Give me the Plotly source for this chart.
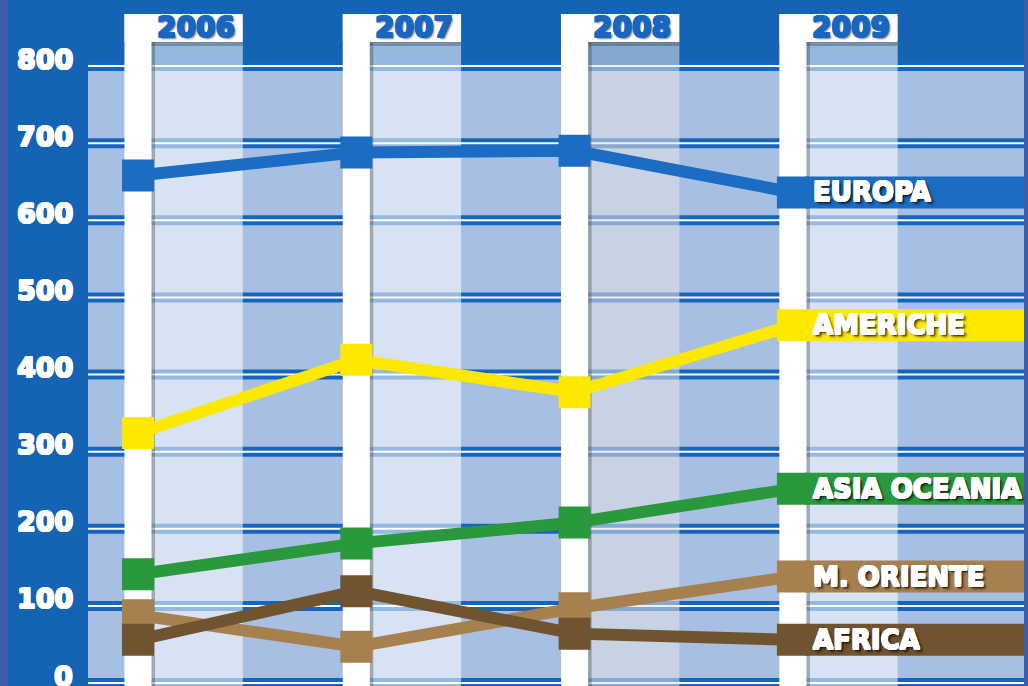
import plotly.graph_objects as go

years = [2006, 2007, 2008, 2009]
year_labels = ["2006", "2007", "2008", "2009"]
series_names = ["EUROPA", "AMERICHE", "ASIA OCEANIA", "M. ORIENTE", "AFRICA"]
europa = [658, 688, 690, 636]
americhe = [324, 419, 377, 464]
asia_oceania = [141, 181, 208, 252]
m_oriente = [88, 47, 97, 138]
africa = [56, 119, 64, 56]
y_ticks = [0, 100, 200, 300, 400, 500, 600, 700, 800]

series_values = [europa, americhe, asia_oceania, m_oriente, africa]
series_colors = ["#1b6cc2", "#fde800", "#2a983c", "#a7804f", "#70532f"]

BG = "#1463b4"
W, H = 1028, 686
PX_PER_YEAR = 218.3
X0_PX = 138
Y0_PX = 683
PX_PER_UNIT = 617 / 800

def xp(px):
    return years[0] + (px - X0_PX) / PX_PER_YEAR

def yp(py):
    return (Y0_PX - py) / PX_PER_UNIT

def thick(color, d=0.7):
    return ", ".join(f"{dx}px {dy}px 0 {color}" for dx, dy in
                     [(d, 0), (-d, 0), (0, d), (0, -d), (d, d), (-d, -d), (d, -d), (-d, d)])

x_range = [xp(0), xp(W)]
y_range = [yp(H), yp(0)]
ymin = y_range[0] - 5
top_val = y_ticks[-1]

shapes = []
shapes.append(dict(type="rect", xref="paper", yref="paper", x0=0, x1=8 / W, y0=0, y1=1,
                   fillcolor="#3a5eaa", line_width=0, layer="below"))
shapes.append(dict(type="rect", xref="paper", yref="paper", x0=1 - 4 / W, x1=1, y0=0, y1=1,
                   fillcolor="#3a5eaa", line_width=0, layer="below"))
shapes.append(dict(type="rect", xref="x", yref="y", x0=xp(88), x1=xp(W - 4), y0=ymin, y1=top_val,
                   fillcolor="#a7bfe2", line_width=0, layer="below"))
for t in y_ticks:
    shapes.append(dict(type="line", xref="x", yref="y", x0=xp(88), x1=xp(W - 4), y0=t, y1=t,
                       line=dict(color="#1565bd", width=10), layer="below"))
    shapes.append(dict(type="line", xref="x", yref="y", x0=xp(88), x1=xp(W - 4), y0=t, y1=t,
                       line=dict(color="white", width=2), layer="below"))
for i, yr in enumerate(years):
    fill = "rgba(255,255,255,0.55)" if yr != 2008 else "rgba(225,225,228,0.55)"
    shapes.append(dict(type="rect", xref="x", yref="y", x0=yr + 0.06, x1=yr + 0.48,
                       y0=ymin, y1=yp(42), fillcolor=fill, line_width=0, layer="below"))
    shapes.append(dict(type="rect", xref="x", yref="y", x0=yr + 0.058, x1=yr + 0.078,
                       y0=ymin, y1=yp(42), fillcolor="rgba(60,60,70,0.35)", line_width=0, layer="below"))
    shapes.append(dict(type="rect", xref="x", yref="y", x0=yr + 0.06, x1=yr + 0.48,
                       y0=yp(46), y1=yp(42), fillcolor="rgba(60,60,70,0.35)", line_width=0, layer="below"))
    shapes.append(dict(type="rect", xref="x", yref="y", x0=yr - 0.062, x1=yr + 0.062,
                       y0=ymin, y1=yp(14), fillcolor="white", line_width=0, layer="below"))
    shapes.append(dict(type="rect", xref="x", yref="y", x0=yr - 0.062, x1=yr + 0.48,
                       y0=yp(42), y1=yp(14), fillcolor="white", line_width=0, layer="below"))

half_box = 16 / PX_PER_UNIT
for vals, col in zip(series_values, series_colors):
    v = vals[-1]
    shapes.append(dict(type="rect", xref="x", yref="y", x0=years[-1] + 0.055, x1=xp(W - 4),
                       y0=v - half_box, y1=v + half_box, fillcolor=col, line_width=0, layer="below"))

fig = go.Figure()
for name, vals, col in zip(series_names, series_values, series_colors):
    fig.add_trace(go.Scatter(
        x=years, y=vals, mode="lines+markers", name=name,
        line=dict(color=col, width=12),
        marker=dict(symbol="square", size=32, color=col, line_width=0),
        hoverinfo="x+y+name"))

annotations = []
for t in y_ticks:
    annotations.append(dict(xref="paper", yref="y", x=75 / W, y=t, yshift=7, text=str(t),
                            showarrow=False, xanchor="right", yanchor="middle",
                            font=dict(family="DejaVu Sans", size=27, color="white", weight="bold",
                                      shadow=thick("white", 0.8))))
for yr, lab in zip(years, year_labels):
    annotations.append(dict(xref="x", yref="y", x=yr + 0.265, y=yp(27), text=lab,
                            showarrow=False, xanchor="center", yanchor="middle",
                            font=dict(family="DejaVu Sans", size=28, color="#1767c2", weight="bold",
                                      shadow=thick("#1767c2", 0.8) + ", 2px 2px 2px rgba(0,0,0,0.5)")))
for name, vals in zip(series_names, series_values):
    annotations.append(dict(xref="x", yref="y", x=xp(811), y=vals[-1], text=name,
                            showarrow=False, xanchor="left", yanchor="middle",
                            font=dict(family="DejaVu Sans", size=26, color="white", weight="bold",
                                      shadow=thick("white", 0.7) + ", 2px 2px 2px rgba(0,0,0,0.7), 3px 3px 3px rgba(0,0,0,0.4)")))

fig.update_layout(
    width=W, height=H, margin=dict(l=0, r=0, t=0, b=0),
    paper_bgcolor=BG, plot_bgcolor=BG,
    showlegend=False, shapes=shapes, annotations=annotations,
    xaxis=dict(range=x_range, visible=False, fixedrange=True),
    yaxis=dict(range=y_range, visible=False, fixedrange=True),
)

fig.write_html("out.html", config={"displayModeBar": False},
               post_script="document.body.style.margin='0';")
